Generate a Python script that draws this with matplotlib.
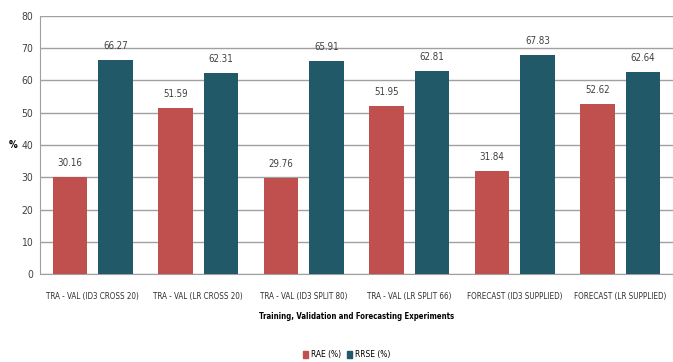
import numpy as np
import matplotlib.pyplot as plt
import matplotlib.patches as mpatches

categories = ["TRA - VAL (ID3 CROSS 20)", "TRA - VAL (LR CROSS 20)", "TRA - VAL (ID3 SPLIT 80)",
              "TRA - VAL (LR SPLIT 66)", "FORECAST (ID3 SUPPLIED)", "FORECAST (LR SUPPLIED)"]
rae = [30.16, 51.59, 29.76, 51.95, 31.84, 52.62]
rrse = [66.27, 62.31, 65.91, 62.81, 67.83, 62.64]
series_names = ["RAE (%)", "RRSE (%)"]
colors = ["#C0504D", "#215968"]

plt.rcParams['font.family'] = ['DejaVu Sans']
plt.rcParams['font.stretch'] = 'condensed'

fig = plt.figure(figsize=(6.73, 3.62), dpi=100)
ax = fig.add_axes([0.0594, 0.243, 0.9406, 0.713])

x = np.arange(len(categories))
w = 0.33
off = 0.215
b1 = ax.bar(x - off, rae, w, color=colors[0], zorder=3)
b2 = ax.bar(x + off, rrse, w, color=colors[1], zorder=3)

for bars, vals in [(b1, rae), (b2, rrse)]:
    for b, v in zip(bars, vals):
        ax.text(b.get_x() + b.get_width() / 2, v + 2.8, f"{v:.2f}", ha='center', va='bottom',
                fontsize=7, color='#404040')

ax.set_xlim(-0.5, len(categories) - 0.5)
ax.set_ylim(0, 80)
ax.set_yticks(range(0, 81, 10))
ax.set_xticks(x)
ax.set_xticklabels(categories, fontsize=5.8, color='#303030')
ax.tick_params(axis='y', labelsize=7.5, colors='#404040', length=0, pad=5)
ax.tick_params(axis='x', length=0, pad=13)
ax.grid(axis='y', color='#a0a0a0', linewidth=1, zorder=0)
for s in ['top', 'right']:
    ax.spines[s].set_visible(False)
ax.spines['left'].set_color('#a0a0a0')
ax.spines['bottom'].set_color('#a0a0a0')

ax.set_ylabel("%", rotation=0, fontsize=7, fontweight='bold', labelpad=6, va='center')
ax.set_xlabel("Training, Validation and Forecasting Experiments", fontsize=5.6, fontweight='bold', labelpad=8)

handles = [mpatches.Patch(color=c, label=n) for c, n in zip(colors, series_names)]
fig.legend(handles=handles, loc='center', bbox_to_anchor=(0.515, 0.02), ncol=2, frameon=False,
           fontsize=6, handlelength=0.6, handleheight=0.8, handletextpad=0.3, columnspacing=0.8)

fig.savefig("out.png", dpi=100)
